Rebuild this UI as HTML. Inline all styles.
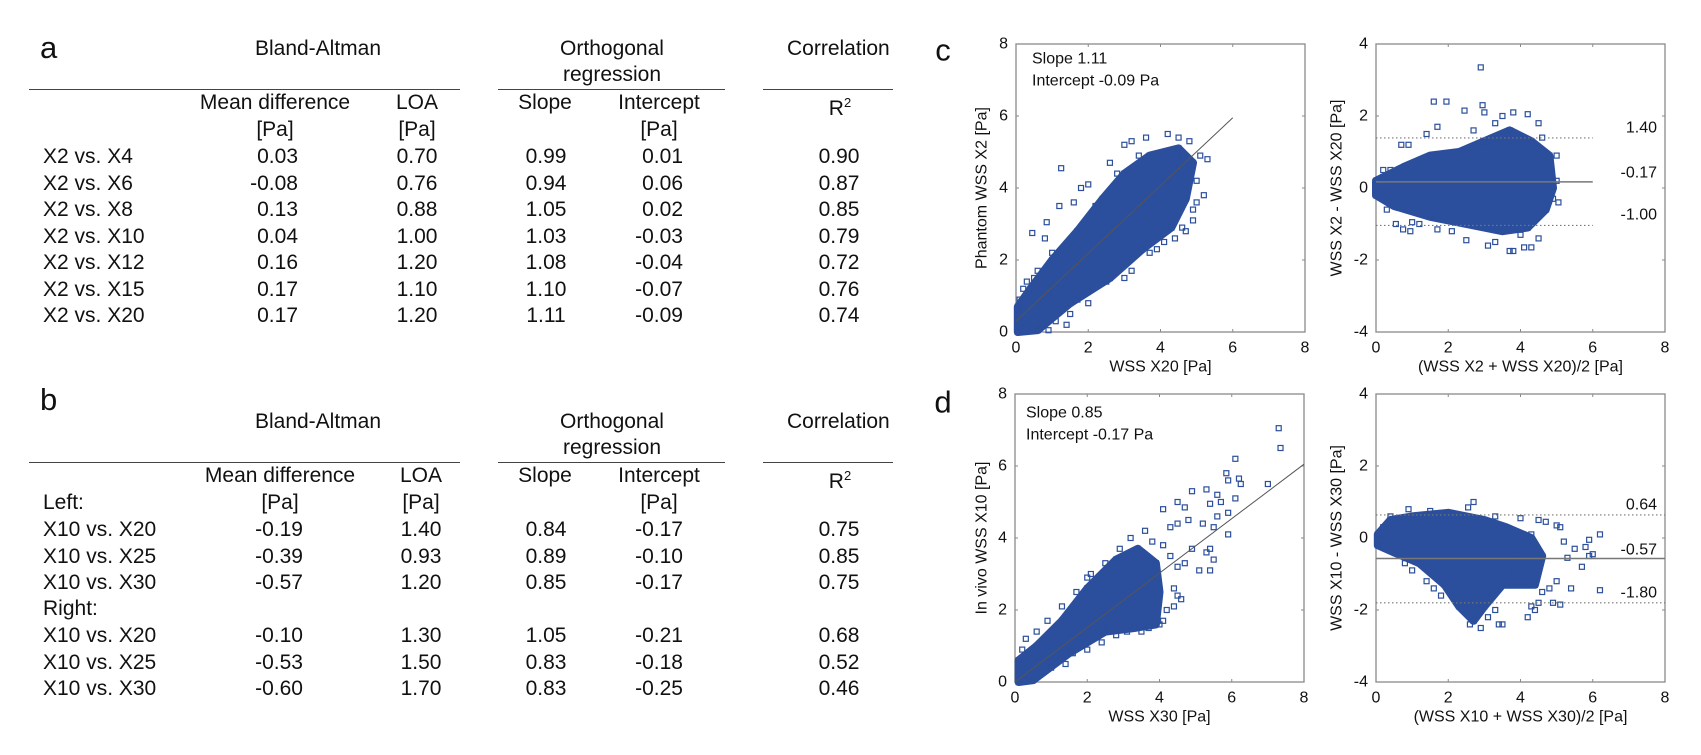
<!DOCTYPE html>
<html><head><meta charset="utf-8">
<style>
body{margin:0;background:#fff;}
#root{position:relative;width:1701px;height:755px;overflow:hidden;background:#fff;font-family:"Liberation Sans",Arial,sans-serif;color:#111;}
.t{position:absolute;font-size:21px;line-height:24px;height:24px;white-space:nowrap;margin-top:-12px;}
.c{transform:translateX(-50%);}
.r{transform:translateX(-100%);}
.L{position:absolute;font-size:31px;line-height:34px;margin-top:-19px;}
.rule{position:absolute;height:0;border-top:1.5px solid #444;}
svg{position:absolute;left:0;top:0;}
</style></head><body>
<div id="root">

<!-- Table a -->
<div>
<div class="L" style="left:40px;top:50px">a</div>
<div class="t c" style="left:318px;top:49px">Bland-Altman</div>
<div class="t c" style="left:612px;top:49px">Orthogonal</div>
<div class="t c" style="left:612px;top:75px">regression</div>
<div class="t" style="left:787px;top:49px">Correlation</div>
<div class="rule" style="left:29px;width:431px;top:89px"></div>
<div class="rule" style="left:498px;width:227px;top:89px"></div>
<div class="rule" style="left:763px;width:130px;top:89px"></div>
<div class="t c" style="left:275px;top:103px">Mean difference</div>
<div class="t c" style="left:417px;top:103px">LOA</div>
<div class="t c" style="left:545px;top:103px">Slope</div>
<div class="t c" style="left:659px;top:103px">Intercept</div>
<div class="t c" style="left:840px;top:103px">R<sup style="font-size:13px">2</sup></div>
<div class="t c" style="left:275px;top:130px">[Pa]</div>
<div class="t c" style="left:417px;top:130px">[Pa]</div>
<div class="t c" style="left:659px;top:130px">[Pa]</div>
</div>

<!-- Table b -->
<div>
<div class="L" style="left:40px;top:402px">b</div>
<div class="t c" style="left:318px;top:422px">Bland-Altman</div>
<div class="t c" style="left:612px;top:422px">Orthogonal</div>
<div class="t c" style="left:612px;top:448px">regression</div>
<div class="t" style="left:787px;top:422px">Correlation</div>
<div class="rule" style="left:29px;width:431px;top:462px"></div>
<div class="rule" style="left:498px;width:227px;top:462px"></div>
<div class="rule" style="left:763px;width:130px;top:462px"></div>
<div class="t c" style="left:280px;top:476px">Mean difference</div>
<div class="t c" style="left:421px;top:476px">LOA</div>
<div class="t c" style="left:545px;top:476px">Slope</div>
<div class="t c" style="left:659px;top:476px">Intercept</div>
<div class="t c" style="left:840px;top:476px">R<sup style="font-size:13px">2</sup></div>
<div class="t" style="left:43px;top:503px">Left:</div>
<div class="t c" style="left:280px;top:503px">[Pa]</div>
<div class="t c" style="left:421px;top:503px">[Pa]</div>
<div class="t c" style="left:659px;top:503px">[Pa]</div>
<div class="t" style="left:43px;top:609px">Right:</div>
</div>

<div id="rowsA"></div>
<div id="rowsB"></div>

<svg id="charts" width="1701" height="755"></svg>
</div>

<script>
// ---------- table data ----------
const rowsALabels = ["X2 vs. X4","X2 vs. X6","X2 vs. X8","X2 vs. X10","X2 vs. X12","X2 vs. X15","X2 vs. X20"];
const rowsAMean = ["0.03","-0.08","0.13","0.04","0.16","0.17","0.17"];
const rowsALoa = ["0.70","0.76","0.88","1.00","1.20","1.10","1.20"];
const rowsASlope = ["0.99","0.94","1.05","1.03","1.08","1.10","1.11"];
const rowsAInt = ["0.01","0.06","0.02","-0.03","-0.04","-0.07","-0.09"];
const rowsAR2 = ["0.90","0.87","0.85","0.79","0.72","0.76","0.74"];
const rowsBLabels = ["X10 vs. X20","X10 vs. X25","X10 vs. X30","X10 vs. X20","X10 vs. X25","X10 vs. X30"];
const rowsBMean = ["-0.19","-0.39","-0.57","-0.10","-0.53","-0.60"];
const rowsBLoa = ["1.40","0.93","1.20","1.30","1.50","1.70"];
const rowsBSlope = ["0.84","0.89","0.85","1.05","0.83","0.83"];
const rowsBInt = ["-0.17","-0.10","-0.17","-0.21","-0.18","-0.25"];
const rowsBR2 = ["0.75","0.85","0.75","0.68","0.52","0.46"];

function cell(parent, txt, x, y, cls){
  const d = document.createElement('div');
  d.className = 't ' + cls;
  d.style.left = x + 'px'; d.style.top = y + 'px';
  d.textContent = txt;
  
  
  parent.appendChild(d);
}
const ra = document.getElementById('rowsA');
rowsALabels.forEach((l,i)=>{
  const y = 157 + 26.5*i;
  cell(ra, l, 43, y, '');
  cell(ra, rowsAMean[i], 298, y, 'r');
  cell(ra, rowsALoa[i], 417, y, 'c');
  cell(ra, rowsASlope[i], 546, y, 'c');
  cell(ra, rowsAInt[i], 683, y, 'r');
  cell(ra, rowsAR2[i], 839, y, 'c');
});
const rb = document.getElementById('rowsB');
const rowsBY = [530,556.5,583,636,662.5,689];
rowsBLabels.forEach((l,i)=>{
  const y = rowsBY[i];
  cell(rb, l, 43, y, '');
  cell(rb, rowsBMean[i], 303, y, 'r');
  cell(rb, rowsBLoa[i], 421, y, 'c');
  cell(rb, rowsBSlope[i], 546, y, 'c');
  cell(rb, rowsBInt[i], 683, y, 'r');
  cell(rb, rowsBR2[i], 839, y, 'c');
});

// ---------- chart data ----------
const cCore = [[0.05,0],[0.6,0.05],[1.5,0.8],[2.6,1.5],[3.5,2.3],[4.3,2.9],[4.7,3.7],[4.9,4.7],[4.5,5.1],[3.7,4.9],[3.0,4.4],[2.4,3.7],[1.7,2.8],[1.0,2.0],[0.4,1.2],[0.05,0.7]];
const cPts = [[1.25,4.55],[0.45,2.75],[0.85,3.05],[0.8,2.6],[1.2,3.5],[1.6,3.6],[1.8,4.0],[2.0,4.1],[2.6,4.7],[3.0,5.2],[3.2,5.3],[3.6,5.4],[4.2,5.5],[4.5,5.4],[4.8,5.3],[5.3,4.8],[5.1,4.9],[5.2,3.8],[5.0,3.6],[4.9,3.4],[4.6,2.9],[4.4,2.6],[4.1,2.5],[3.7,2.2],[3.2,1.7],[3.0,1.5],[2.5,1.4],[2.0,0.8],[1.7,0.9],[1.4,0.2],[1.1,0.3],[0.9,0.05],[0.7,0.15],[1.5,0.5],[2.3,1.9],[4.0,3.1],[0.3,1.4],[0.5,1.5],[0.2,1.2],[0.1,0.9],[0.6,1.7],[1.0,2.2],[3.8,4.6],[4.8,4.2],[5.0,4.2],[4.2,4.2],[2.8,4.4],[2.2,3.5],[3.4,4.9],[4.6,4.9],[4.9,3.1],[4.7,2.8],[3.9,2.3],[2.9,1.9]];
const cLine = [[0,0.3],[6,5.95]];
const cSlopeText = "Slope 1.11";
const cInterText = "Intercept -0.09 Pa";

const c2Core = [[0,-0.2],[0.5,-0.5],[1.5,-0.8],[2.5,-1.0],[3.5,-1.2],[4.2,-1.1],[4.7,-0.6],[4.9,0],[4.8,0.9],[4.3,1.3],[3.7,1.6],[3.0,1.3],[2.3,1.0],[1.5,0.9],[0.8,0.6],[0.2,0.3],[0,0.2]];
const c2Pts = [[2.9,3.35],[1.6,2.4],[1.95,2.4],[2.45,2.15],[2.95,2.3],[3.0,2.1],[3.5,2.0],[3.8,2.1],[4.2,2.05],[4.5,1.8],[1.7,1.7],[1.4,1.5],[0.7,1.2],[0.9,1.2],[0.4,0.5],[0.2,0.5],[5.0,0.9],[5.0,0.2],[5.05,-0.4],[4.9,-0.3],[0.55,-1.0],[0.75,-1.15],[0.95,-1.2],[1.0,-0.95],[1.7,-1.15],[2.5,-1.45],[3.1,-1.6],[3.3,-1.5],[3.7,-1.75],[3.8,-1.75],[4.1,-1.65],[4.3,-1.65],[4.5,-1.4],[4.0,-1.3],[2.1,-1.2],[1.2,-1.0],[3.3,1.8],[2.7,1.6],[4.6,1.4],[0.3,-0.6]];
const c2Mean = [0.17];
const c2Loa = [1.39,-1.04];
const c2Labels = ["1.40","-0.17","-1.00"];

const dCore = [[0.1,0],[0.5,0.05],[1.5,0.8],[2.5,1.4],[3.3,1.5],[3.9,1.6],[4.0,2.5],[3.9,3.3],[3.4,3.7],[2.8,3.4],[2.0,2.6],[1.3,1.7],[0.6,1.0],[0.1,0.6]];
const dPts = [[7.3,7.05],[7.35,6.5],[6.1,6.2],[5.85,5.8],[5.9,5.6],[6.2,5.65],[6.25,5.5],[7.0,5.5],[6.1,5.1],[4.1,4.8],[4.5,5.0],[4.7,4.85],[4.9,5.3],[5.3,5.35],[5.6,5.2],[5.7,5.0],[5.4,4.95],[5.9,4.7],[5.6,4.6],[4.3,4.3],[4.5,4.4],[4.8,4.5],[5.2,4.4],[5.5,4.3],[5.9,4.1],[5.4,3.7],[5.5,3.4],[5.3,3.6],[5.4,3.1],[5.1,3.1],[4.7,3.3],[4.9,3.7],[4.5,3.2],[4.3,3.5],[4.1,3.8],[4.4,2.6],[4.5,2.4],[4.6,2.3],[4.4,2.1],[4.2,2.0],[4.1,1.7],[4.0,1.6],[3.7,1.5],[3.5,1.4],[3.1,1.4],[2.8,1.3],[2.4,1.1],[2.0,0.9],[1.6,0.8],[1.4,0.5],[1.0,0.4],[0.8,0.3],[3.6,4.2],[3.2,4.0],[2.9,3.7],[2.5,3.3],[2.1,3.0],[1.7,2.5],[1.3,2.1],[0.9,1.7],[0.6,1.4],[0.3,1.2],[0.2,0.9],[2.0,2.9],[3.8,3.9]];
const dLine = [[0,0],[8,6.05]];
const dSlopeText = "Slope 0.85";
const dInterText = "Intercept -0.17 Pa";

const d2Core = [[0.05,0.1],[0.4,0.5],[1.0,0.6],[2.0,0.7],[3.0,0.5],[3.6,0.3],[4.3,0],[4.6,-0.5],[4.4,-1.3],[3.5,-1.3],[3.0,-1.9],[2.7,-2.3],[2.3,-1.9],[1.9,-1.3],[1.2,-0.7],[0.5,-0.4],[0.05,-0.2]];
const d2Pts = [[2.7,1.0],[2.55,0.85],[0.9,0.8],[0.4,0.6],[0.2,0.3],[4.0,0.55],[4.5,0.5],[4.7,0.45],[5.0,0.35],[5.1,0.3],[4.3,0.1],[5.2,-0.1],[5.9,-0.05],[6.2,0.1],[5.8,-0.25],[5.5,-0.3],[5.3,-0.55],[5.9,-0.5],[6.0,-0.45],[5.7,-0.8],[5.4,-1.4],[6.2,-1.45],[5.0,-1.2],[4.8,-1.4],[4.6,-1.5],[4.9,-1.8],[5.1,-1.85],[4.5,-1.8],[4.3,-1.9],[4.2,-2.2],[4.4,-2.0],[3.3,-2.0],[3.5,-2.4],[3.4,-2.4],[2.9,-2.5],[3.1,-2.2],[2.6,-2.4],[3.8,-1.0],[3.9,-0.6],[1.8,-1.6],[1.6,-1.4],[1.4,-1.2],[1.0,-0.9],[0.8,-0.7],[1.5,0.75],[3.3,0.6]];
const d2Mean = [-0.57];
const d2Loa = [0.64,-1.8];
const d2Labels = ["0.64","-0.57","-1.80"];

const xTicks = [0,2,4,6,8];
const yTicksScatter = [0,2,4,6,8];
const yTicksBA = [-4,-2,0,2,4];

// ---------- drawing ----------
const NS = 'http://www.w3.org/2000/svg';
const svg = document.getElementById('charts');
const BLUE = '#2b4f9c';
function mk(tag, attrs, parent){
  const e = document.createElementNS(NS, tag);
  for (const k in attrs) e.setAttribute(k, attrs[k]);
  (parent||svg).appendChild(e);
  return e;
}
function txt(s, x, y, size, anchor, parent, rot){
  const e = mk('text', {x:x, y:y, 'font-size':size, 'text-anchor':anchor||'middle', 'dominant-baseline':'central', 'font-family':'"Liberation Sans", Arial, sans-serif', fill:'#111'}, parent);
  if (rot) e.setAttribute('transform', 'rotate(-90 ' + x + ' ' + y + ')');
  e.textContent = s;
  return e;
}
function makePlot(cfg){
  const g = mk('g', {});
  
  
  const sx = v => cfg.x0 + (v - cfg.xd[0]) / (cfg.xd[1]-cfg.xd[0]) * (cfg.x1-cfg.x0);
  const sy = v => cfg.y1 - (v - cfg.yd[0]) / (cfg.yd[1]-cfg.yd[0]) * (cfg.y1-cfg.y0);
  const fr = mk('rect', {x:cfg.x0, y:cfg.y0, width:cfg.x1-cfg.x0, height:cfg.y1-cfg.y0, fill:'none', stroke:'#8a8a8a', 'stroke-width':1.3}, g);
  
  
  xTicks.forEach(t=>{
    const x = sx(t);
    mk('line', {x1:x, x2:x, y1:cfg.y1, y2:cfg.y1-3, stroke:'#8a8a8a'}, g);
    mk('line', {x1:x, x2:x, y1:cfg.y0, y2:cfg.y0+3, stroke:'#8a8a8a'}, g);
    const tl = txt(String(t), x, cfg.y1+16, 16, 'middle', g);
    
    
  });
  cfg.yt.forEach(t=>{
    const y = sy(t);
    mk('line', {x1:cfg.x0, x2:cfg.x0+3, y1:y, y2:y, stroke:'#8a8a8a'}, g);
    mk('line', {x1:cfg.x1, x2:cfg.x1-3, y1:y, y2:y, stroke:'#8a8a8a'}, g);
    const tl = txt(String(t), cfg.x0-8, y, 16, 'end', g);
    
    
  });
  const hull = mk('polygon', {points: cfg.core.map(p=>sx(p[0])+','+sy(p[1])).join(' '), fill:BLUE, stroke:BLUE, 'stroke-width':8, 'stroke-linejoin':'round'}, g);
  
  
  cfg.core.concat(cfg.pts).forEach(p=>{
    const r = mk('rect', {x:sx(p[0])-2.5, y:sy(p[1])-2.5, width:5, height:5, fill:'none', stroke:BLUE, 'stroke-width':1.2}, g);
    
    
  });
  if (cfg.line){
    const l = mk('line', {x1:sx(cfg.line[0][0]), y1:sy(cfg.line[0][1]), x2:sx(cfg.line[1][0]), y2:sy(cfg.line[1][1]), stroke:'#555', 'stroke-width':1}, g);
    
    
  }
  if (cfg.mean){
    const l = mk('line', {x1:cfg.x0, x2:sx(cfg.lineEnd), y1:sy(cfg.mean[0]), y2:sy(cfg.mean[0]), stroke:'#777', 'stroke-width':1.5}, g);
    
    
    cfg.loa.forEach(v=>{
      const d = mk('line', {x1:cfg.x0, x2:sx(cfg.lineEnd), y1:sy(v), y2:sy(v), stroke:'#777', 'stroke-width':1.2, 'stroke-dasharray':'1.5,2.5'}, g);
      
      
    });
    cfg.labels.forEach((s,i)=>{
      const l2 = txt(s, cfg.x1-8, cfg.labelY[i], 16, 'end', g);
      
      
    });
  }
  if (cfg.ann){
    const a1 = txt(cfg.ann[0], cfg.annX, cfg.annY, 16, 'start', g);
    
    
    const a2 = txt(cfg.ann[1], cfg.annX, cfg.annY+22, 16, 'start', g);
    
    
  }
  const xt = txt(cfg.xTitle, (cfg.x0+cfg.x1)/2, cfg.y1+35, 16, 'middle', g);
  
  
  const yt = txt(cfg.yTitle, cfg.yTitleX, (cfg.y0+cfg.y1)/2, 16, 'middle', g, true);
  
  
}

makePlot({name:'plot-c-scatter', x0:1016, x1:1305, y0:44, y1:332, xd:[0,8], yd:[0,8], yt:yTicksScatter,
  core:cCore, pts:cPts, line:cLine, ann:[cSlopeText, cInterText], annX:1032, annY:59,
  xTitle:'WSS X20 [Pa]', yTitle:'Phantom WSS X2 [Pa]', yTitleX:982});
makePlot({name:'plot-c-bland-altman', x0:1376, x1:1665, y0:44, y1:332, xd:[0,8], yd:[-4,4], yt:yTicksBA,
  core:c2Core, pts:c2Pts, mean:c2Mean, loa:c2Loa, lineEnd:6, labels:c2Labels, labelY:[128,173,215],
  xTitle:'(WSS X2 + WSS X20)/2 [Pa]', yTitle:'WSS X2 - WSS X20 [Pa]', yTitleX:1337});
makePlot({name:'plot-d-scatter', x0:1015, x1:1304, y0:394, y1:682, xd:[0,8], yd:[0,8], yt:yTicksScatter,
  core:dCore, pts:dPts, line:dLine, ann:[dSlopeText, dInterText], annX:1026, annY:413,
  xTitle:'WSS X30 [Pa]', yTitle:'In vivo WSS X10 [Pa]', yTitleX:982});
makePlot({name:'plot-d-bland-altman', x0:1376, x1:1665, y0:394, y1:682, xd:[0,8], yd:[-4,4], yt:yTicksBA,
  core:d2Core, pts:d2Pts, mean:d2Mean, loa:d2Loa, lineEnd:8, labels:d2Labels, labelY:[505,550,593],
  xTitle:'(WSS X10 + WSS X30)/2 [Pa]', yTitle:'WSS X10 - WSS X30 [Pa]', yTitleX:1337});

const pc = txt('c', 943, 50, 31, 'middle');


const pd = txt('d', 943, 402, 31, 'middle');


</script>
</body></html>
